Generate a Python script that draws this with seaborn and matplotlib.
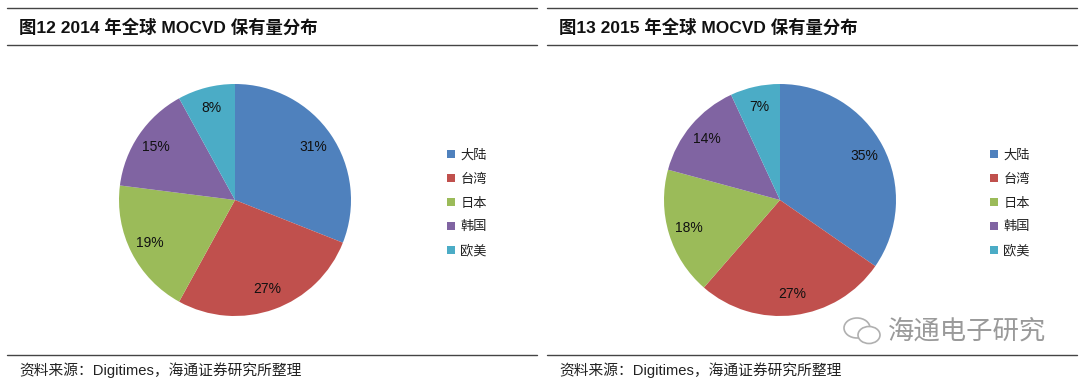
import matplotlib
matplotlib.use("Agg")
import matplotlib.pyplot as plt
import seaborn as sns
from matplotlib.lines import Line2D
from matplotlib.patches import Ellipse

sns.set_theme(style="white")
plt.rcParams['font.family'] = ['Liberation Sans', 'Noto Sans CJK SC', 'DejaVu Sans']

# data
regions = ['大陆', '台湾', '日本', '韩国', '欧美']
share_2014 = [31, 27, 19, 15, 8]
share_2015 = [35, 27, 18, 14, 7]
titles = ['图12 2014 年全球 MOCVD 保有量分布', '图13 2015 年全球 MOCVD 保有量分布']
source = '资料来源：Digitimes，海通证券研究所整理'
colors = ['#4F81BD', '#C0504D', '#9BBB59', '#8064A2', '#4BACC6']

W, H = 1080, 381
fig = plt.figure(figsize=(W / 100, H / 100), dpi=100)


def fx(px):
    return px / W


def fy(py):
    return 1 - py / H


panels = [(0, share_2014), (540, share_2015)]
for i, (x0, vals) in enumerate(panels):
    # header / footer rules
    for yy in (8, 45, 355):
        fig.add_artist(Line2D([fx(x0 + 7), fx(x0 + 537)], [fy(yy), fy(yy)],
                              color='#444444', lw=1.0))
    fig.text(fx(x0 + 19), fy(27), titles[i], fontsize=12.5, fontweight='bold',
             va='center', ha='left', color='#111111')
    fig.text(fx(x0 + 19), fy(370), source, fontsize=10.6, va='center', ha='left',
             color='#222222')

    cx, cy, r = x0 + (235 if i == 0 else 240), 200, 116
    ax = fig.add_axes([fx(cx - r), fy(cy + r), fx(2 * r), 2 * r / H])
    wedges, _, autotexts = ax.pie(vals, colors=colors, startangle=90, counterclock=False,
                                  autopct=lambda p: f'{p:.0f}%', pctdistance=0.82,
                                  radius=1, textprops=dict(fontsize=10, color='#111111'),
                                  wedgeprops=dict(linewidth=0))
    for t, v in zip(autotexts, vals):
        t.set_text(f'{v}%')
    ax.set_xlim(-1, 1)
    ax.set_ylim(-1, 1)
    ax.set_aspect('equal')
    ax.axis('off')

    lx = x0 + (444 if i == 0 else 447)
    handles = [Line2D([0], [0], marker='s', linestyle='', markersize=6,
                      markerfacecolor=c, markeredgewidth=0) for c in colors]
    lg = fig.legend(handles, regions, loc='upper left',
                    bbox_to_anchor=(fx(lx - 10), fy(137)), frameon=False,
                    labelspacing=0.82, handlelength=0.8, handletextpad=0.3,
                    prop=dict(family=['Noto Sans CJK SC'], size=9.5))
    for t in lg.get_texts():
        t.set_color('#222222')

# watermark
wax = fig.add_axes([fx(840), fy(350), fx(45), 40 / H])
wax.set_xlim(0, 45)
wax.set_ylim(0, 40)
wax.axis('off')
wax.add_patch(Ellipse((17, 22), 26, 20, fill=False, ec='#b0b0b0', lw=1.2))
wax.add_patch(Ellipse((29, 15), 22, 17, fill=True, fc='white', ec='#b0b0b0', lw=1.2))
fig.text(fx(888), fy(331), '海通电子研究', fontsize=19, va='center', ha='left',
         color='#9a9a9a', family=['Noto Sans CJK SC'])

fig.savefig('out.png', dpi=100, facecolor='white')
